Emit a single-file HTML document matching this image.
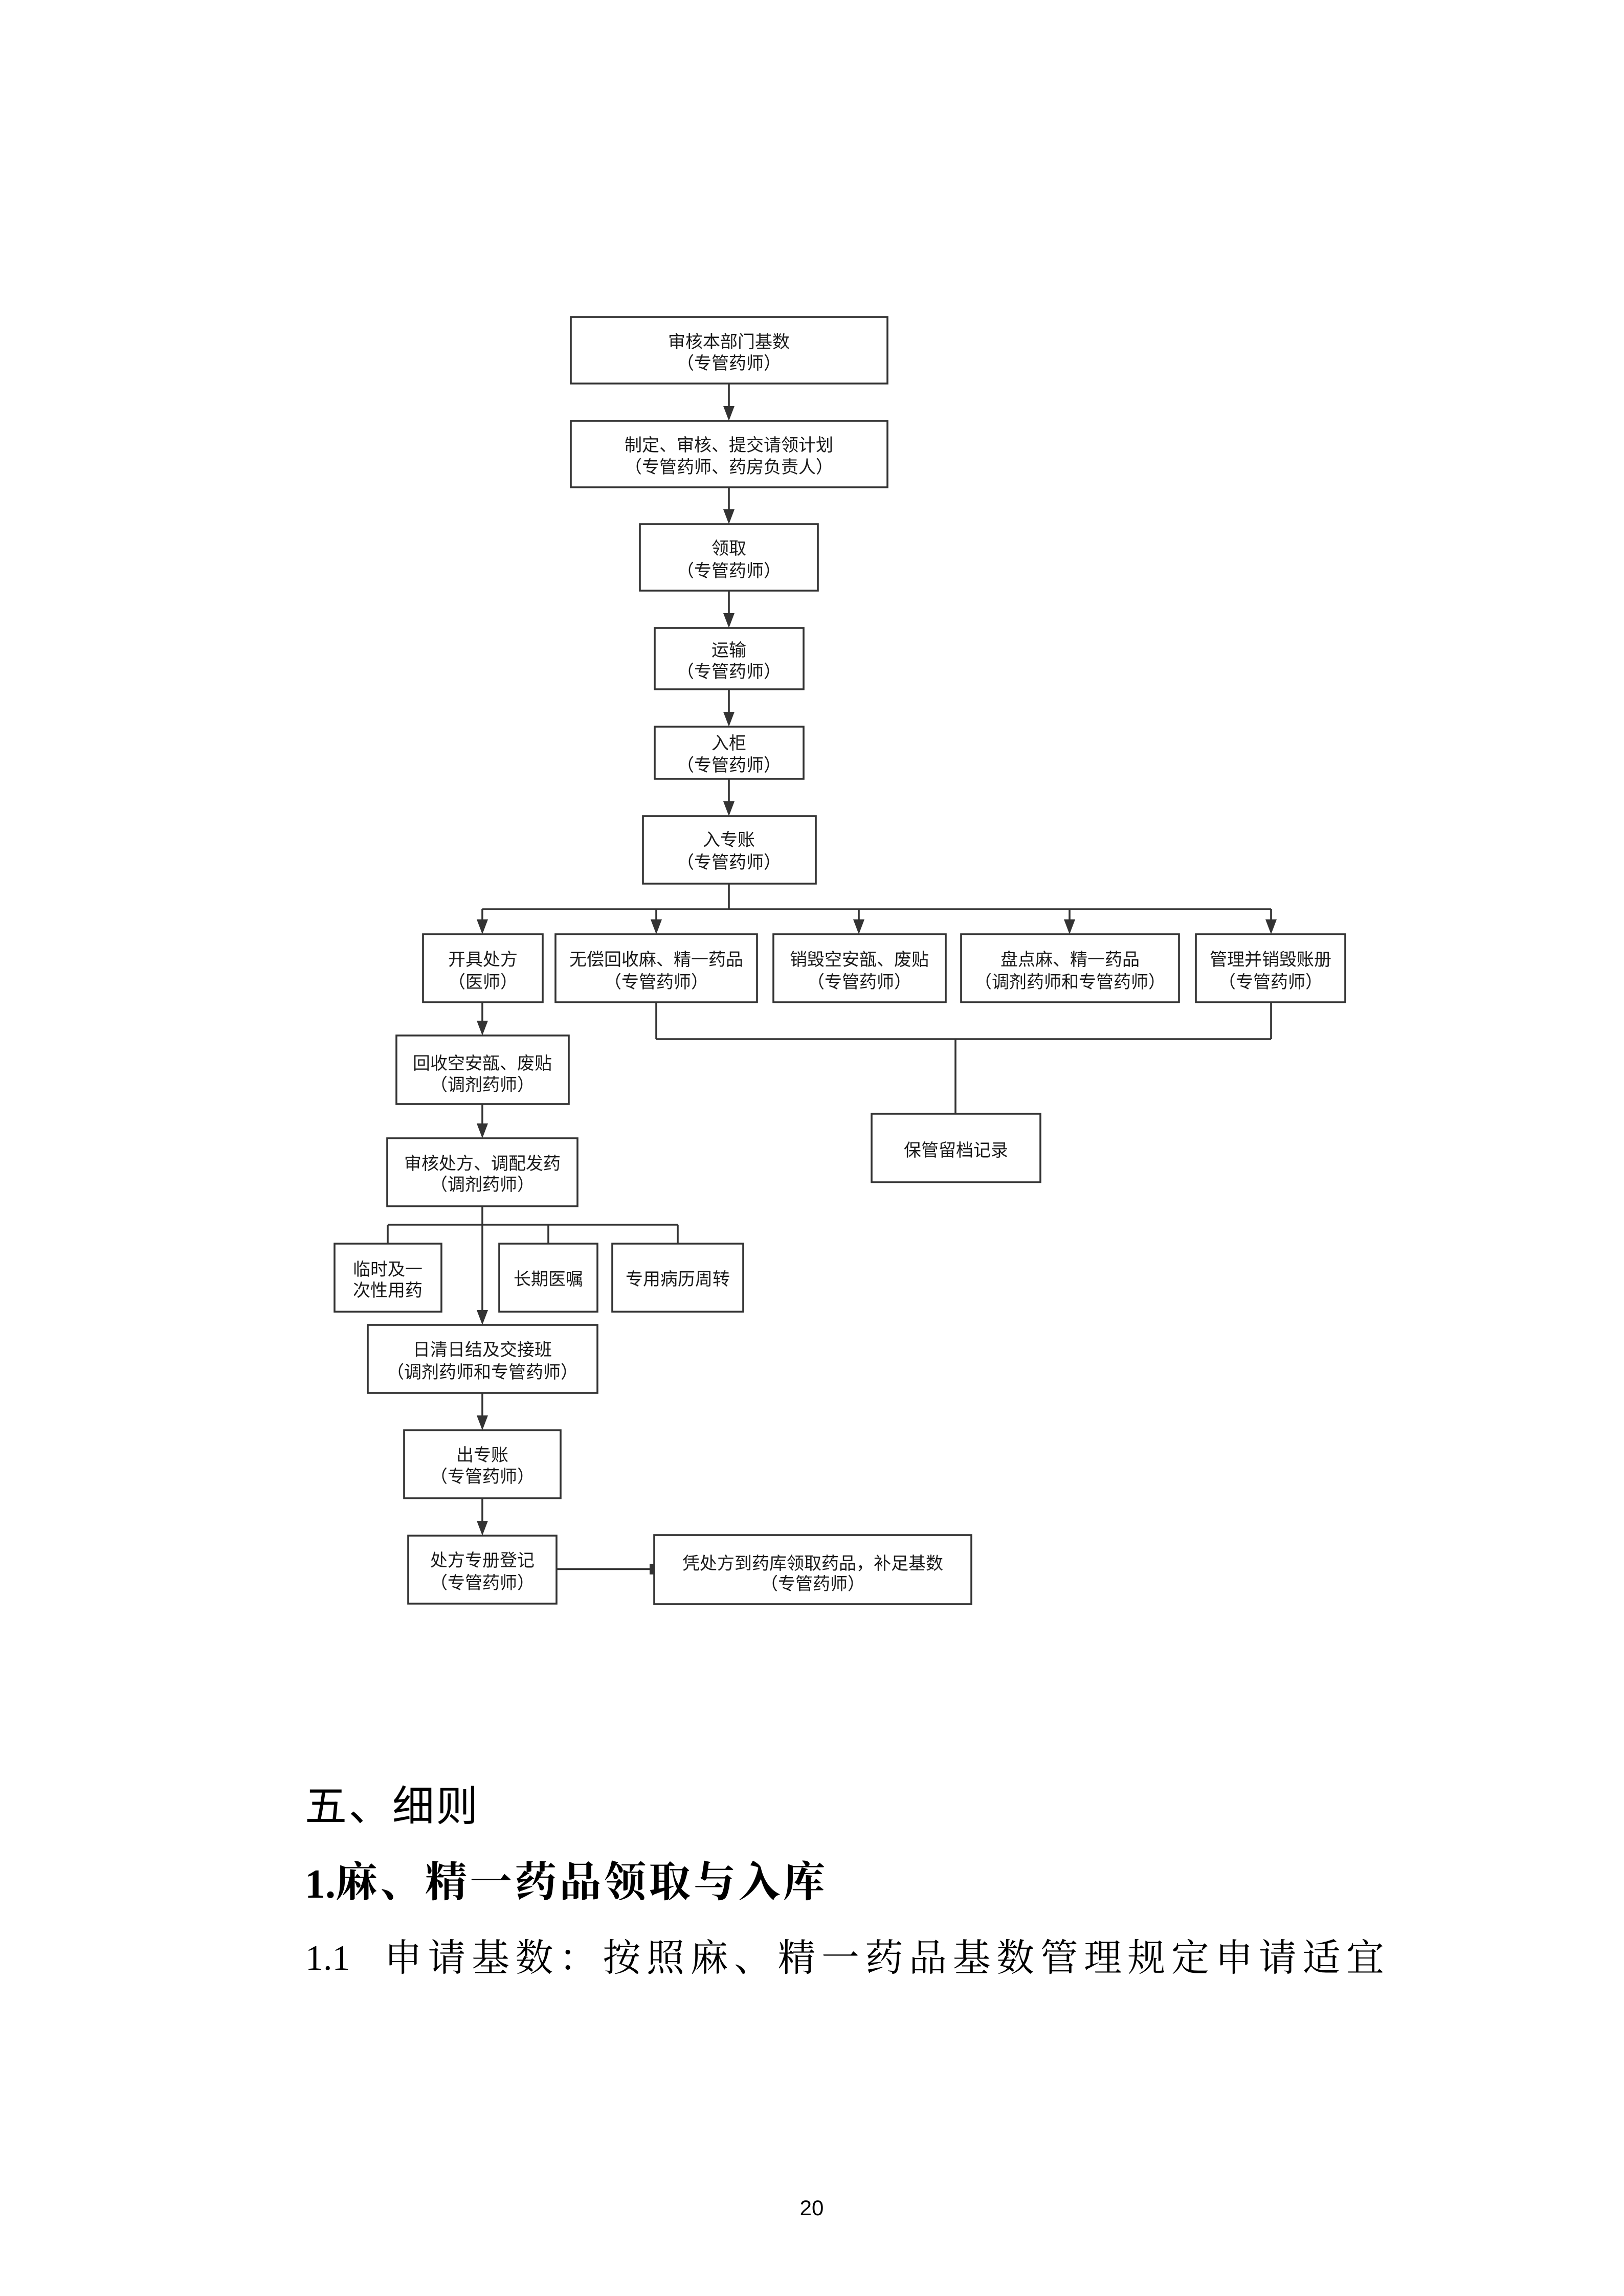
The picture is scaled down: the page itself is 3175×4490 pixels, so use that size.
<!DOCTYPE html>
<html>
<head>
<meta charset="utf-8">
<style>
  html,body{margin:0;padding:0;background:#fff;}
  body{width:3175px;height:4490px;overflow:hidden;}
  svg{display:block;}
  .b{fill:#fff;stroke:#333;stroke-width:3.6;}
  .l{stroke:#333;stroke-width:3.6;fill:none;}
  .a{fill:#333;stroke:none;}
  .t{font-family:"Liberation Sans","Noto Sans CJK SC",sans-serif;font-size:34px;fill:#1a1a1a;text-anchor:middle;dominant-baseline:central;}
  .h{font-feature-settings:"halt";}
</style>
</head>
<body>
<svg width="3175" height="4490" viewBox="0 0 3175 4490" xmlns="http://www.w3.org/2000/svg">
  <!-- connectors -->
  <g>
    <!-- main column -->
    <line class="l" x1="1425" y1="750" x2="1425" y2="796"/>
    <polygon class="a" points="1414,794 1436,794 1425,823"/>
    <line class="l" x1="1425" y1="953" x2="1425" y2="998"/>
    <polygon class="a" points="1414,996 1436,996 1425,1025"/>
    <line class="l" x1="1425" y1="1155" x2="1425" y2="1201"/>
    <polygon class="a" points="1414,1199 1436,1199 1425,1228"/>
    <line class="l" x1="1425" y1="1348" x2="1425" y2="1394"/>
    <polygon class="a" points="1414,1392 1436,1392 1425,1421"/>
    <line class="l" x1="1425" y1="1523" x2="1425" y2="1569"/>
    <polygon class="a" points="1414,1567 1436,1567 1425,1596"/>
    <line class="l" x1="1425" y1="1728" x2="1425" y2="1778"/>
    <!-- top bus -->
    <line class="l" x1="943" y1="1778" x2="2485" y2="1778"/>
    <line class="l" x1="943" y1="1778" x2="943" y2="1800"/>
    <polygon class="a" points="932,1798 954,1798 943,1827"/>
    <line class="l" x1="1283" y1="1778" x2="1283" y2="1800"/>
    <polygon class="a" points="1272,1798 1294,1798 1283,1827"/>
    <line class="l" x1="1679" y1="1778" x2="1679" y2="1800"/>
    <polygon class="a" points="1668,1798 1690,1798 1679,1827"/>
    <line class="l" x1="2091" y1="1778" x2="2091" y2="1800"/>
    <polygon class="a" points="2080,1798 2102,1798 2091,1827"/>
    <line class="l" x1="2485" y1="1778" x2="2485" y2="1800"/>
    <polygon class="a" points="2474,1798 2496,1798 2485,1827"/>
    <!-- lower right connector -->
    <line class="l" x1="1283" y1="1960" x2="1283" y2="2032"/>
    <line class="l" x1="2485" y1="1960" x2="2485" y2="2032"/>
    <line class="l" x1="1283" y1="2032" x2="2485" y2="2032"/>
    <line class="l" x1="1868" y1="2032" x2="1868" y2="2178"/>
    <!-- left column -->
    <line class="l" x1="943" y1="1960" x2="943" y2="1998"/>
    <polygon class="a" points="932,1996 954,1996 943,2025"/>
    <line class="l" x1="943" y1="2159" x2="943" y2="2199"/>
    <polygon class="a" points="932,2197 954,2197 943,2226"/>
    <line class="l" x1="943" y1="2359" x2="943" y2="2564"/>
    <polygon class="a" points="932,2562 954,2562 943,2591"/>
    <line class="l" x1="758" y1="2395" x2="1325" y2="2395"/>
    <line class="l" x1="758" y1="2395" x2="758" y2="2432"/>
    <line class="l" x1="1072" y1="2395" x2="1072" y2="2432"/>
    <line class="l" x1="1325" y1="2395" x2="1325" y2="2432"/>
    <line class="l" x1="943" y1="2724" x2="943" y2="2770"/>
    <polygon class="a" points="932,2768 954,2768 943,2797"/>
    <line class="l" x1="943" y1="2930" x2="943" y2="2976"/>
    <polygon class="a" points="932,2974 954,2974 943,3003"/>
    <line class="l" x1="1088" y1="3068.5" x2="1272" y2="3068.5"/>
    <rect class="a" x="1270" y="3058" width="9" height="21"/>
  </g>

  <!-- boxes -->
  <g>
    <rect class="b" x="1116" y="620" width="619" height="130"/>
    <rect class="b" x="1116" y="823" width="619" height="130"/>
    <rect class="b" x="1251" y="1025" width="348" height="130"/>
    <rect class="b" x="1280" y="1228" width="291" height="120"/>
    <rect class="b" x="1280" y="1421" width="291" height="102"/>
    <rect class="b" x="1257" y="1596" width="338" height="132"/>

    <rect class="b" x="827" y="1827" width="234" height="133"/>
    <rect class="b" x="1086" y="1827" width="394" height="133"/>
    <rect class="b" x="1512" y="1827" width="337" height="133"/>
    <rect class="b" x="1879" y="1827" width="426" height="133"/>
    <rect class="b" x="2338" y="1827" width="292" height="133"/>

    <rect class="b" x="775" y="2025" width="337" height="134"/>
    <rect class="b" x="1704" y="2178" width="330" height="134"/>
    <rect class="b" x="757" y="2226" width="372" height="133"/>

    <rect class="b" x="654" y="2432" width="209" height="133"/>
    <rect class="b" x="976" y="2432" width="192" height="133"/>
    <rect class="b" x="1197" y="2432" width="256" height="133"/>

    <rect class="b" x="719" y="2591" width="449" height="133"/>
    <rect class="b" x="790" y="2797" width="306" height="133"/>
    <rect class="b" x="798" y="3003" width="290" height="133"/>
    <rect class="b" x="1279" y="3002" width="620" height="135"/>
  </g>

  <!-- box texts -->
  <g>
    <text class="t" x="1425" y="669">审核本部门基数</text>
    <text class="t" x="1425" y="711"><tspan class="h">（</tspan>专管药师<tspan class="h">）</tspan></text>

    <text class="t" x="1425" y="871">制定、审核、提交请领计划</text>
    <text class="t" x="1425" y="914">（专管药师、药房负责人）</text>

    <text class="t" x="1425" y="1073">领取</text>
    <text class="t" x="1425" y="1117"><tspan class="h">（</tspan>专管药师<tspan class="h">）</tspan></text>

    <text class="t" x="1425" y="1272">运输</text>
    <text class="t" x="1425" y="1314"><tspan class="h">（</tspan>专管药师<tspan class="h">）</tspan></text>

    <text class="t" x="1425" y="1454">入柜</text>
    <text class="t" x="1425" y="1497"><tspan class="h">（</tspan>专管药师<tspan class="h">）</tspan></text>

    <text class="t" x="1425" y="1643">入专账</text>
    <text class="t" x="1425" y="1687"><tspan class="h">（</tspan>专管药师<tspan class="h">）</tspan></text>

    <text class="t" x="944" y="1877">开具处方</text>
    <text class="t" x="944" y="1921"><tspan class="h">（</tspan>医师<tspan class="h">）</tspan></text>

    <text class="t" x="1283" y="1877">无偿回收麻、精一药品</text>
    <text class="t" x="1283" y="1921"><tspan class="h">（</tspan>专管药师<tspan class="h">）</tspan></text>

    <text class="t" x="1680" y="1877">销毁空安瓿、废贴</text>
    <text class="t" x="1680" y="1921"><tspan class="h">（</tspan>专管药师<tspan class="h">）</tspan></text>

    <text class="t" x="2092" y="1877">盘点麻、精一药品</text>
    <text class="t" x="2092" y="1921">（调剂药师和专管药师）</text>

    <text class="t" x="2484" y="1877">管理并销毁账册</text>
    <text class="t" x="2484" y="1921"><tspan class="h">（</tspan>专管药师<tspan class="h">）</tspan></text>

    <text class="t" x="943" y="2080">回收空安瓿、废贴</text>
    <text class="t" x="943" y="2122"><tspan class="h">（</tspan>调剂药师<tspan class="h">）</tspan></text>

    <text class="t" x="1869" y="2250">保管留档记录</text>

    <text class="t" x="943" y="2276">审核处方、调配发药</text>
    <text class="t" x="943" y="2317"><tspan class="h">（</tspan>调剂药师<tspan class="h">）</tspan></text>

    <text class="t" x="758" y="2483">临时及一</text>
    <text class="t" x="758" y="2524">次性用药</text>
    <text class="t" x="1072" y="2502">长期医嘱</text>
    <text class="t" x="1325" y="2502">专用病历周转</text>

    <text class="t" x="943" y="2640">日清日结及交接班</text>
    <text class="t" x="943" y="2684">（调剂药师和专管药师）</text>

    <text class="t" x="943" y="2846">出专账</text>
    <text class="t" x="943" y="2888"><tspan class="h">（</tspan>专管药师<tspan class="h">）</tspan></text>

    <text class="t" x="943" y="3052">处方专册登记</text>
    <text class="t" x="943" y="3096"><tspan class="h">（</tspan>专管药师<tspan class="h">）</tspan></text>

    <text class="t" x="1589" y="3058">凭处方到药库领取药品，补足基数</text>
    <text class="t" x="1589" y="3098"><tspan class="h">（</tspan>专管药师<tspan class="h">）</tspan></text>
  </g>

  <!-- body text -->
  <text x="596" y="3533" style="font-family:'Liberation Sans','Noto Sans CJK SC',sans-serif;font-size:82px;letter-spacing:3.5px;fill:#000;dominant-baseline:central;">五、细则</text>

  <text x="596" y="3711" style="font-family:'Liberation Serif',serif;font-size:80px;font-weight:bold;fill:#000;">1.</text>
  <text x="656" y="3681" style="font-family:'Liberation Serif','Noto Serif CJK SC',serif;font-size:82px;font-weight:bold;letter-spacing:5.5px;fill:#000;dominant-baseline:central;">麻、精一药品领取与入库</text>

  <text x="597" y="3852" style="font-family:'Liberation Serif',serif;font-size:70px;fill:#000;">1.1</text>
  <text x="751" y="3830" style="font-family:'Liberation Serif','Noto Serif CJK SC',serif;font-size:74px;letter-spacing:11.5px;fill:#000;dominant-baseline:central;">申请基数：按照麻、精一药品基数管理规定申请适宜</text>

  <text x="1587" y="4332" style="font-family:'Liberation Sans',sans-serif;font-size:42px;fill:#000;text-anchor:middle;">20</text>
</svg>
</body>
</html>
